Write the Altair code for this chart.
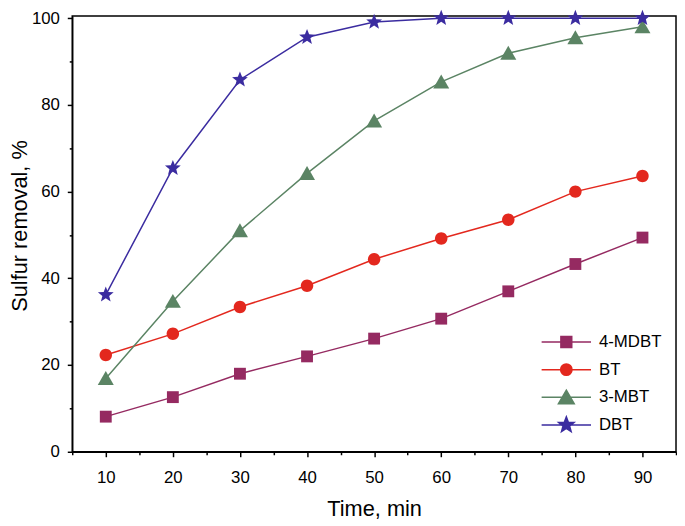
import math
import altair as alt
import pandas as pd

# ---- data ----
time = [10, 20, 30, 40, 50, 60, 70, 80, 90]
series_names = ["4-MDBT", "BT", "3-MBT", "DBT"]
mdbt4 = [8.1, 12.6, 18.0, 22.0, 26.1, 30.7, 37.0, 43.3, 49.4]
bt = [22.3, 27.2, 33.4, 38.3, 44.4, 49.2, 53.5, 60.0, 63.6]
mbt3 = [16.9, 34.7, 51.0, 64.2, 76.3, 85.3, 91.9, 95.5, 98.0]
dbt = [36.2, 65.4, 85.8, 95.6, 99.1, 100.0, 100.0, 100.0, 100.0]
colors = ["#952a61", "#e3281e", "#5b8464", "#3b2ca0"]

FONT = "Liberation Sans"


def star_path(ro, ri, dx=0.0):
    pts = []
    for k in range(10):
        r = ro if k % 2 == 0 else ri
        a = math.radians(-90 + 36 * k)
        pts.append(f"{r * math.cos(a) + dx:.3f},{r * math.sin(a):.3f}")
    return "M" + "L".join(pts) + "Z"


def circle_path(r):
    return f"M{r},0A{r},{r},0,1,1,{-r},0A{r},{r},0,1,1,{r},0Z"


# marker shapes for data points (unit = 6 px at size 144)
pt_square = "M-1,-1H1V1H-1Z"
pt_circle = circle_path(1.05)
pt_tri = "M0,-1.25L1.35,1.1L-1.35,1.1Z"
pt_star = star_path(1.4, 0.6)

# legend shapes: line segment + marker (unit = 25 px at size 2500)
LINE = "M-1,0H1"
lg_square = LINE + "M-0.22,-0.22H0.22V0.22H-0.22Z"
lg_circle = LINE + circle_path(0.23)
lg_tri = LINE + "M0,-0.29L0.32,0.26L-0.32,0.26Z"
lg_star = LINE + star_path(0.33, 0.14)

rows = []
for name, vals in zip(series_names, [mdbt4, bt, mbt3, dbt]):
    for t, v in zip(time, vals):
        rows.append({"time": t, "removal": v, "compound": name})
df = pd.DataFrame(rows)

x = alt.X(
    "time:Q",
    scale=alt.Scale(domain=[5, 95], nice=False, zero=False),
    axis=alt.Axis(
        title="Time, min",
        values=list(range(5, 96, 5)),
        labelExpr="(datum.value % 10 === 0 && datum.value >= 10 && datum.value <= 90) ? datum.label : ''",
        tickSize={"condition": {"test": "datum.value % 10 === 0", "value": 5}, "value": 3},
        labelPadding=13,
        labelFlush=False,
        labelOverlap=False,
        titleY=64,
        titleBaseline="alphabetic",
        grid=False,
    ),
)
y = alt.Y(
    "removal:Q",
    scale=alt.Scale(domain=[0, 100.5], nice=False),
    axis=alt.Axis(
        title="Sulfur removal, %",
        values=list(range(0, 101, 10)),
        labelExpr="datum.value % 20 === 0 ? datum.label : ''",
        tickSize={"condition": {"test": "datum.value % 20 === 0", "value": 5}, "value": 3},
        labelPadding=8,
        labelFlush=False,
        labelOverlap=False,
        titleX=-46.5,
        titleY=212,
        titleBaseline="alphabetic",
        grid=False,
    ),
)

color_scale = alt.Scale(domain=series_names, range=colors)

base = alt.Chart(df)

lines = base.mark_line(strokeWidth=1.5).encode(
    x=x, y=y,
    color=alt.Color("compound:N", scale=color_scale, legend=None),
    detail="compound:N",
)

points = base.mark_point(filled=True, opacity=1, size=144, strokeWidth=0).encode(
    x=x, y=y,
    color=alt.Color("compound:N", scale=color_scale, legend=None),
    shape=alt.Shape(
        "compound:N",
        scale=alt.Scale(domain=series_names, range=[pt_square, pt_circle, pt_tri, pt_star]),
        legend=None,
    ),
)

leg = alt.Legend(
    title=None,
    orient="none",
    legendX=474,
    legendY=316,
    padding=0,
    symbolSize=2500,
    symbolStrokeWidth=1.5,
    symbolOpacity=1,
    labelFont=FONT,
    labelFontSize=17,
    labelColor="black",
    labelOffset=7,
    rowPadding=0,
    clipHeight=27.8,
)

legend_layer = base.transform_filter("false").mark_point(
    filled=True, opacity=1, strokeWidth=1.5
).encode(
    x=x, y=y,
    fill=alt.Fill("compound:N", scale=alt.Scale(domain=series_names, range=colors), legend=leg),
    stroke=alt.Stroke("compound:N", scale=alt.Scale(domain=series_names, range=colors), legend=leg),
    shape=alt.Shape(
        "compound:N",
        scale=alt.Scale(domain=series_names, range=[lg_square, lg_circle, lg_tri, lg_star]),
        legend=leg,
    ),
)

chart = (
    alt.layer(lines, points, legend_layer)
    .resolve_scale(shape="independent", fill="independent", stroke="independent")
    .properties(
        width=611,
        height=441,
        autosize=alt.AutoSizeParams(type="none"),
        padding={"left": 65, "top": 5, "right": 1, "bottom": 70},
        background="white",
    )
    .configure_view(stroke="black", strokeWidth=1.5)
    .configure_axis(
        domainColor="black",
        domainWidth=1.5,
        tickColor="black",
        tickWidth=1.5,
        labelFont=FONT,
        labelFontSize=17,
        labelColor="black",
        titleFont=FONT,
        titleFontSize=22,
        titleFontWeight="normal",
        titleColor="black",
    )
)

chart.save("out.html", embed_options={"renderer": "svg", "actions": False})
